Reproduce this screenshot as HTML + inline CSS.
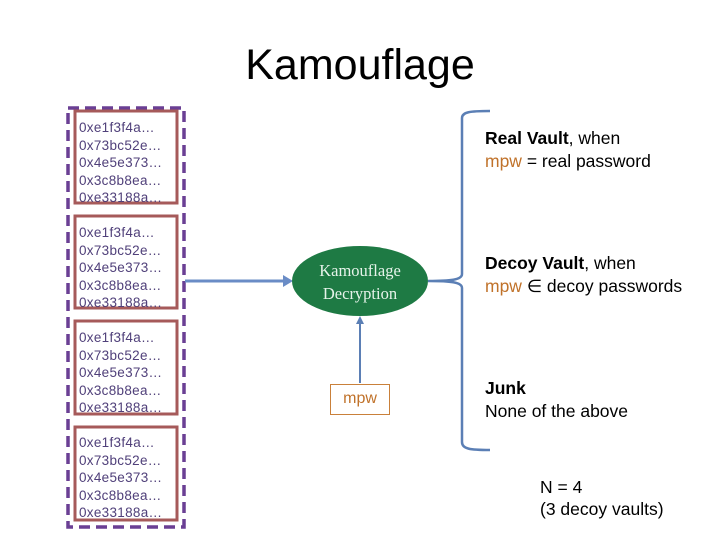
<!DOCTYPE html>
<html><head><style>
body{margin:0;width:720px;height:540px;background:#fff;position:relative;overflow:hidden;font-family:"Liberation Sans",sans-serif}
.t{position:absolute}
.hex{position:absolute;left:79px;font-size:13.5px;line-height:17.6px;color:#50407a;letter-spacing:0.3px}
.r{font-size:17.5px;line-height:23px}
</style></head><body>
<svg width="720" height="540" style="position:absolute;left:0;top:0">
<rect x="68" y="108" width="116" height="419" fill="none" stroke="#6a3f94" stroke-width="3.5" stroke-dasharray="11,6"/>
<rect x="75" y="111" width="102" height="92" fill="none" stroke="#a65a5a" stroke-width="3"/>
<rect x="75" y="216" width="102" height="92" fill="none" stroke="#a65a5a" stroke-width="3"/>
<rect x="75" y="321" width="102" height="93" fill="none" stroke="#a65a5a" stroke-width="3"/>
<rect x="75" y="427" width="102" height="93" fill="none" stroke="#a65a5a" stroke-width="3"/>
<line x1="185" y1="281" x2="284" y2="281" stroke="#6a8cc6" stroke-width="3"/>
<polygon points="283,275 293,281 283,287" fill="#6a8cc6"/>
<ellipse cx="360" cy="281" rx="68" ry="35" fill="#1e7a44"/>
<line x1="360" y1="383" x2="360" y2="322" stroke="#5b7fb5" stroke-width="2"/>
<polygon points="356,324 360,316 364,324" fill="#5b7fb5"/>
<rect x="330.5" y="384.5" width="59" height="30" fill="#fff" stroke="#c9803a" stroke-width="1"/>
<path d="M490,111 C470,111 462,112 462,118 L462,274 C462,280 450,281 428,281 C450,281 462,282 462,288 L462,442 C462,449 470,450 490,450" fill="none" stroke="#5b7fb5" stroke-width="2.5"/>
</svg>
<div class="t" style="left:0;width:720px;top:41px;text-align:center;font-size:43px;">Kamouflage</div>
<div class="hex" style="top:119px">0xe1f3f4a…<br>0x73bc52e…<br>0x4e5e373…<br>0x3c8b8ea…<br>0xe33188a…</div>
<div class="hex" style="top:224px">0xe1f3f4a…<br>0x73bc52e…<br>0x4e5e373…<br>0x3c8b8ea…<br>0xe33188a…</div>
<div class="hex" style="top:329px">0xe1f3f4a…<br>0x73bc52e…<br>0x4e5e373…<br>0x3c8b8ea…<br>0xe33188a…</div>
<div class="hex" style="top:434px">0xe1f3f4a…<br>0x73bc52e…<br>0x4e5e373…<br>0x3c8b8ea…<br>0xe33188a…</div>
<div class="t" style="left:292px;width:136px;top:259px;text-align:center;color:#e6f3ea;font-family:'Liberation Serif',serif;font-size:16.5px;line-height:23px">Kamouflage<br>Decryption</div>
<div class="t" style="left:330px;width:60px;top:390px;text-align:center;color:#c0722a;font-size:16px">mpw</div>
<div class="t r" style="left:485px;top:127px"><b>Real Vault</b>, when<br><span style="color:#c0722a">mpw</span> = real password</div>
<div class="t r" style="left:485px;top:252px"><b>Decoy Vault</b>, when<br><span style="color:#c0722a">mpw</span> ∈ decoy passwords</div>
<div class="t r" style="left:485px;top:377px"><b>Junk</b><br>None of the above</div>
<div class="t r" style="left:540px;top:476px">N = 4</div>
<div class="t r" style="left:540px;top:498px">(3 decoy vaults)</div>
</body></html>
